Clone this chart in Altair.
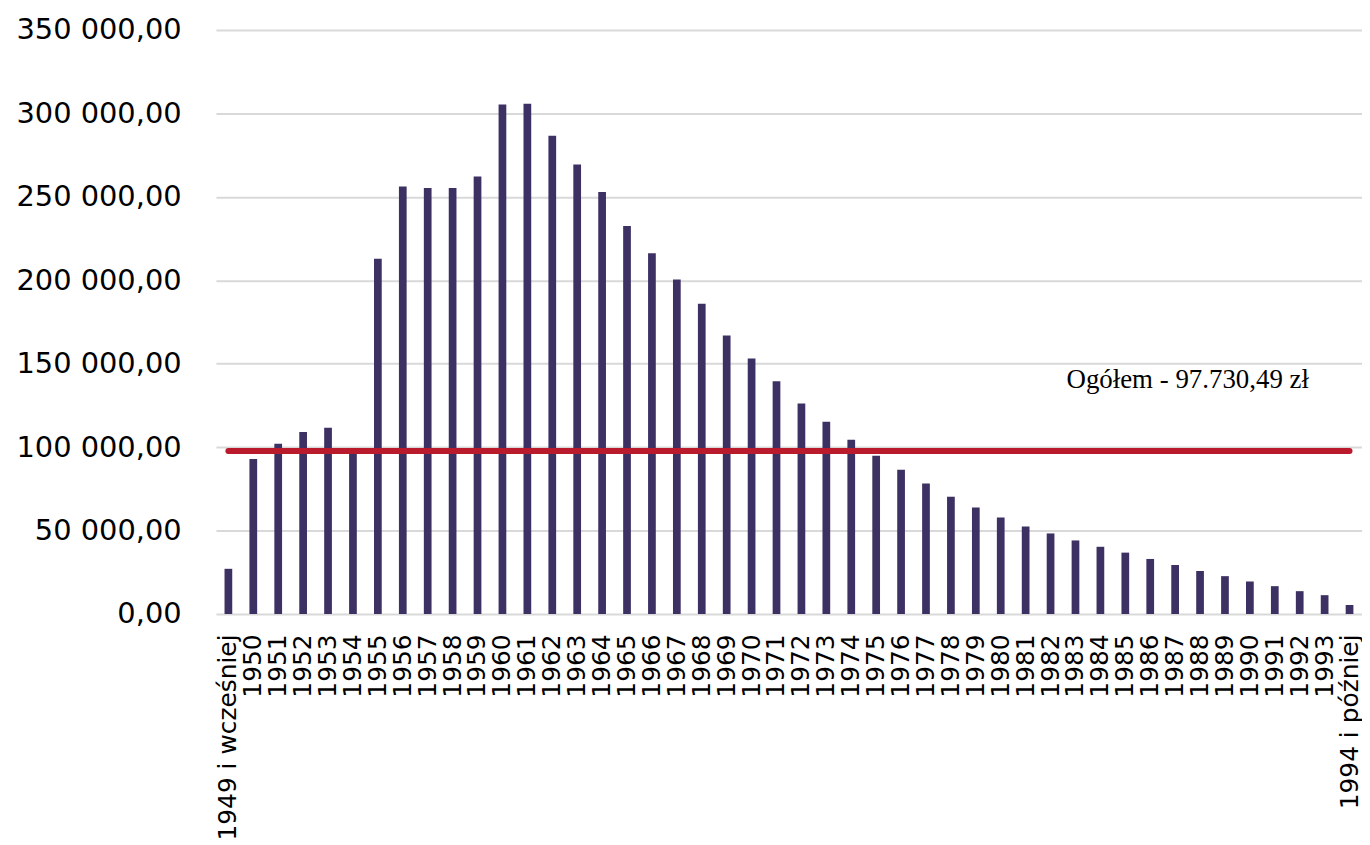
import altair as alt
import pandas as pd

categories = ["1949 i wcześniej"] + [str(y) for y in range(1950, 1994)] + ["1994 i później"]
values = [
    27100, 92900, 102100, 109100, 111600, 96500, 212900, 256300, 255400, 255400,
    262200, 305400, 305800, 286700, 269400, 253000, 232600, 216200, 200500, 186000,
    166900, 153200, 139500, 126200, 115300, 104500, 94800, 86400, 78300, 70300,
    63800, 57800, 52500, 48300, 44100, 40300, 36800, 33000, 29400, 25800,
    22700, 19500, 16700, 13700, 11300, 5400,
]
average_value = 97730.49
average_label = "Ogółem - 97.730,49 zł"
y_ticks = [0, 50000, 100000, 150000, 200000, 250000, 300000, 350000]

df = pd.DataFrame({"rok": categories, "wartosc": values})
line_df = pd.DataFrame({"rok": [categories[0], categories[-1]], "wartosc": [average_value] * 2})
text_df = pd.DataFrame({"rok": ["1982"], "wartosc": [135300], "t": [average_label]})

x_enc = alt.X(
    "rok:N",
    sort=categories,
    scale=alt.Scale(paddingInner=0.69, paddingOuter=0.345),
    axis=alt.Axis(
        title=None, labelAngle=270, labelFont="DejaVu Sans", labelFontSize=25,
        labelColor="#000000", labelPadding=20, ticks=False, domain=False,
        grid=False, labelOverlap=False, labelBound=False, labelLimit=0,
    ),
)
y_scale = alt.Scale(domain=[0, 350000], nice=False, zero=True)

bars = alt.Chart(df).mark_bar(color="#3d3163").encode(
    x=x_enc,
    y=alt.Y(
        "wartosc:Q", scale=y_scale,
        axis=alt.Axis(
            title=None, values=y_ticks, ticks=False, domain=False,
            labelFont="DejaVu Sans", labelFontSize=29, labelColor="#000000",
            labelPadding=35, gridColor="#d9d9d9", gridWidth=2,
            labelExpr="replace(replace(format(datum.value, ',.2f'), ',', ' '), '.', ',')",
        ),
    ),
)

line = alt.Chart(line_df).mark_line(color="#b91b2c", strokeWidth=6, strokeCap="round").encode(
    x=alt.X("rok:N", sort=categories),
    y=alt.Y("wartosc:Q", scale=y_scale),
)

text = alt.Chart(text_df).mark_text(
    align="left", baseline="alphabetic", dx=16, font="Liberation Serif",
    fontSize=27, color="#000000",
).encode(
    x=alt.X("rok:N", sort=categories),
    y=alt.Y("wartosc:Q", scale=y_scale),
    text="t:N",
)

chart = alt.layer(bars, line, text).properties(
    width=1152, height=587,
    autosize=alt.AutoSizeParams(type="none"),
    padding={"left": 209, "top": 20, "right": 0, "bottom": 228},
    background="white",
).configure_view(stroke=None)

chart.save("out.html", embed_options={"renderer": "svg", "actions": False})
